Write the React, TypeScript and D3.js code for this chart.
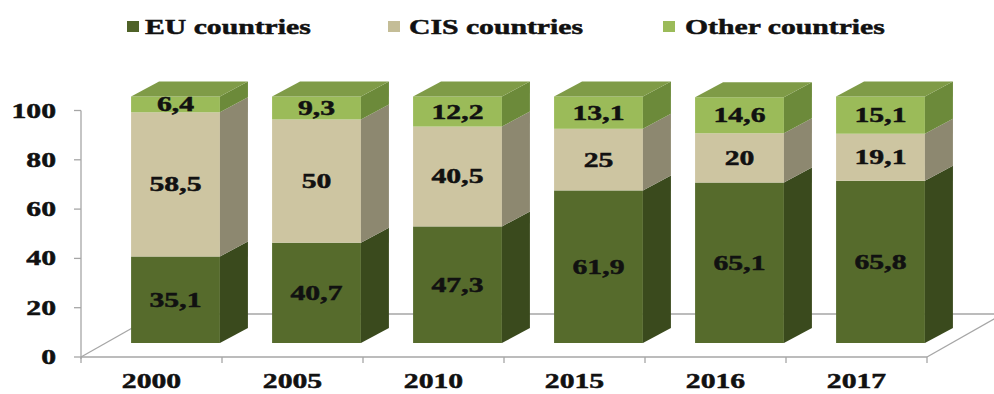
import React from 'react';
import * as d3 from 'd3';

const years = ['2000', '2005', '2010', '2015', '2016', '2017'];
const euValues = [35.1, 40.7, 47.3, 61.9, 65.1, 65.8];
const cisValues = [58.5, 50, 40.5, 25, 20, 19.1];
const otherValues = [6.4, 9.3, 12.2, 13.1, 14.6, 15.1];
const seriesNames = ['EU countries', 'CIS countries', 'Other countries'];
const yTicks = [0, 20, 40, 60, 80, 100];

const W = 994;
const H = 394;
const FONT = "'Liberation Serif', 'Times New Roman', serif";
const SX = 1.35; // horizontal stretch of the original image text

const faceColors = [
  { front: '#566b2c', side: '#3a4a1d', top: '#4a5e25' },
  { front: '#cdc5a1', side: '#8d8870', top: '#b3ab88' },
  { front: '#9bbb59', side: '#6c8a3a', top: '#7f9b47' },
];
const legendColors = ['#4f6228', '#c4bd97', '#9bbb59'];

const fmt = (v: number) => String(v).replace('.', ',');

export default function App() {
  const rows = years.map((yr, i) => ({
    year: yr,
    eu: euValues[i],
    cis: cisValues[i],
    other: otherValues[i],
  }));
  const keys = ['eu', 'cis', 'other'];
  const stacked = d3.stack<any>().keys(keys)(rows);

  const x = d3.scaleBand<string>().domain(years).range([81, 927]).paddingInner(0).paddingOuter(0);
  const y = d3.scaleLinear().domain([0, 100]).range([357, 110.5]);

  // depth geometry
  const floorDx = 76, floorDy = 43;
  const frontDx = 24, frontDy = 14;
  const barDx = 28, barDy = 15;
  const bw = x.bandwidth();
  const barW = bw * 0.63;

  const axisColor = '#a6a6a6';
  const textStroke = { stroke: '#111', strokeWidth: 0.5 };

  const legendItems = [
    { sq: 127, tx: 145 },
    { sq: 388, tx: 409 },
    { sq: 663, tx: 685 },
  ];

  return (
    <svg width={W} height={H} style={{ position: 'fixed', left: 0, top: 0, background: '#fff' }}
      fontFamily={FONT} fontWeight="bold">
      <rect x={0} y={0} width={W} height={H} fill="#fff" />
      {/* legend */}
      {seriesNames.map((name, i) => (
        <g key={name}>
          <rect x={legendItems[i].sq} y={21} width={12} height={11} fill={legendColors[i]} />
          <text transform={`translate(${legendItems[i].tx},34) scale(${SX},1)`} fontSize={22} fill="#111" {...textStroke}>
            {name}
          </text>
        </g>
      ))}

      {/* floor */}
      <g stroke={axisColor} strokeWidth={1.3} fill="none">
        <line x1={81} y1={357} x2={927} y2={357} />
        <line x1={81} y1={357} x2={81 + floorDx} y2={357 - floorDy} />
        <line x1={927} y1={357} x2={927 + floorDx} y2={357 - floorDy} />
        <line x1={81 + floorDx} y1={357 - floorDy} x2={927 + floorDx} y2={357 - floorDy} />
        {/* x ticks */}
        {years.map((yr) => (
          <line key={yr} x1={x(yr)!} y1={357} x2={x(yr)!} y2={363} />
        ))}
        <line x1={927} y1={357} x2={927} y2={363} />
        {/* y axis */}
        <line x1={81} y1={y(0) + 2} x2={81} y2={y(100)} />
        {yTicks.map((t) => (
          <line key={t} x1={74} y1={y(t)} x2={81} y2={y(t)} />
        ))}
      </g>

      {/* y tick labels */}
      {yTicks.map((t) => (
        <text key={t} transform={`translate(56,${y(t) + 7}) scale(${SX},1)`} textAnchor="end"
          fontSize={22} fill="#111" {...textStroke}>
          {t}
        </text>
      ))}

      {/* x labels */}
      {years.map((yr) => (
        <text key={yr} transform={`translate(${x(yr)! + bw / 2},388) scale(${SX},1)`} textAnchor="middle"
          fontSize={22} fill="#111" {...textStroke}>
          {yr}
        </text>
      ))}

      {/* bars */}
      {years.map((yr, i) => {
        const x0 = x(yr)! + frontDx + (bw - barW) / 2;
        const x1 = x0 + barW;
        return (
          <g key={yr}>
            {stacked.map((s, si) => {
              const [v0, v1] = s[i];
              const yb = y(v0) - frontDy;
              const yt = y(v1) - frontDy;
              const c = faceColors[si];
              const isTop = si === stacked.length - 1;
              const sidePts = `${x1},${yb} ${x1 + barDx},${yb - barDy} ${x1 + barDx},${yt - barDy} ${x1},${yt}`;
              const topPts = `${x0},${yt} ${x0 + barDx},${yt - barDy} ${x1 + barDx},${yt - barDy} ${x1},${yt}`;
              return (
                <g key={si}>
                  <rect x={x0} y={yt} width={barW} height={yb - yt} fill={c.front} />
                  <polygon points={sidePts} fill={c.side} />
                  {isTop && <polygon points={topPts} fill={c.top} />}
                </g>
              );
            })}
            {stacked.map((s, si) => {
              const [v0, v1] = s[i];
              const cy = (y(v0) + y(v1)) / 2 - frontDy;
              const raw = [euValues, cisValues, otherValues][si][i];
              return (
                <text key={'l' + si} transform={`translate(${(x0 + x1) / 2},${cy + 7}) scale(${SX},1)`}
                  textAnchor="middle" fontSize={22} fill="#111" {...textStroke}>
                  {fmt(raw)}
                </text>
              );
            })}
          </g>
        );
      })}
    </svg>
  );
}
